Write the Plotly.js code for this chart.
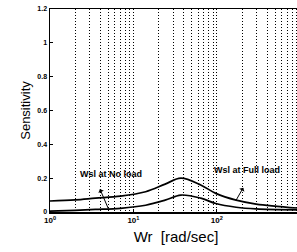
<!DOCTYPE html>
<html>
<head>
<meta charset="utf-8">
<script src="https://cdn.plot.ly/plotly-3.0.1.min.js"></script>
<style>
html,body{margin:0;padding:0;overflow:hidden;background:#fff;}
#chart{width:302px;height:252px;}
</style>
</head>
<body>
<div id="chart"></div>
<script>
// Data
const wr = [1, 2, 3.5, 7, 14, 24, 37, 64, 97, 170, 295, 1000];
const fullLoad = [0.065, 0.072, 0.082, 0.094, 0.12, 0.165, 0.20, 0.16, 0.11, 0.07, 0.047, 0.022];
const noLoad = [0.005, 0.01, 0.015, 0.022, 0.04, 0.07, 0.10, 0.082, 0.05, 0.028, 0.018, 0.012];
const xTickVals = [1, 10, 100, 1000];
const xTickText = ['10<sup>0</sup>', '10<sup>1</sup>', '10<sup>2</sup>', '10<sup>3</sup>'];
const yTickVals = [0, 0.2, 0.4, 0.6, 0.8, 1, 1.2];
const yTickText = ['0', '0.2', '0.4', '0.6', '0.8', '1', '1.2'];
const labelNo = 'Wsl at No load';
const labelFull = 'Wsl at Full load';

const lineStyle = {color: '#000', width: 1.7, shape: 'spline', smoothing: 1};
const traces = [
  {x: wr, y: fullLoad, mode: 'lines', line: lineStyle, name: labelFull, hoverinfo: 'skip'},
  {x: wr, y: noLoad, mode: 'lines', line: lineStyle, name: labelNo, hoverinfo: 'skip'}
];

const boldFam = 'Liberation Sans, Arial, sans-serif';
const annFont = {family: boldFam, size: 9, color: '#000', weight: 'bold'};
const gridDash = '1px,2px';
const layout = {
  width: 302, height: 252,
  margin: {l: 50, r: 0, t: 9, b: 40},
  paper_bgcolor: '#fff', plot_bgcolor: '#fff',
  showlegend: false,
  font: {family: boldFam, color: '#000'},
  xaxis: {
    type: 'log', range: [0, 3.02], automargin: false,
    tickvals: xTickVals, ticktext: xTickText,
    tickfont: {family: boldFam, size: 8, weight: 'bold', color: '#000'},
    showgrid: true, gridcolor: '#000', griddash: gridDash, gridwidth: 1,
    minor: {dtick: 'D1', showgrid: true, gridcolor: '#000', griddash: gridDash, gridwidth: 1, ticks: ''},
    showline: true, linecolor: '#000', linewidth: 1.5, mirror: true,
    ticks: 'inside', ticklen: 3, tickcolor: '#000',
    zeroline: false,
    title: {text: 'Wr  [rad/sec]', font: {size: 15, color: '#000'}, standoff: 7}
  },
  yaxis: {
    range: [0, 1.2], automargin: false,
    tickvals: yTickVals, ticktext: yTickText,
    tickfont: {family: boldFam, size: 7, weight: 'bold', color: '#000'},
    showgrid: false, zeroline: false,
    showline: true, linecolor: '#000', linewidth: 1.5,
    ticks: 'inside', ticklen: 3, tickcolor: '#000',
    title: {text: 'Sensitivity', font: {size: 13, color: '#000'}, standoff: 4}
  },
  annotations: [
    {x: Math.log10(5), y: 0.02, xref: 'x', yref: 'y', text: '', showarrow: true,
     arrowhead: 2, arrowsize: 0.9, arrowwidth: 1, arrowcolor: '#000', arrowside: 'start',
     ax: -9, ay: -21},
    {x: Math.log10(5), y: 0.02, xref: 'x', yref: 'y', text: labelNo, showarrow: false,
     font: annFont, xshift: 3, yshift: 35},
    {x: Math.log10(wr[9]), y: fullLoad[9], xref: 'x', yref: 'y', text: '', showarrow: true,
     arrowhead: 2, arrowsize: 0.9, arrowwidth: 1, arrowcolor: '#000', arrowside: 'start',
     ax: 8, ay: -14},
    {x: Math.log10(wr[9]), y: fullLoad[9], xref: 'x', yref: 'y', text: labelFull, showarrow: false,
     font: annFont, xshift: 11, yshift: 30}
  ]
};

Plotly.newPlot('chart', traces, layout, {staticPlot: true, displayModeBar: false});
</script>
</body>
</html>
